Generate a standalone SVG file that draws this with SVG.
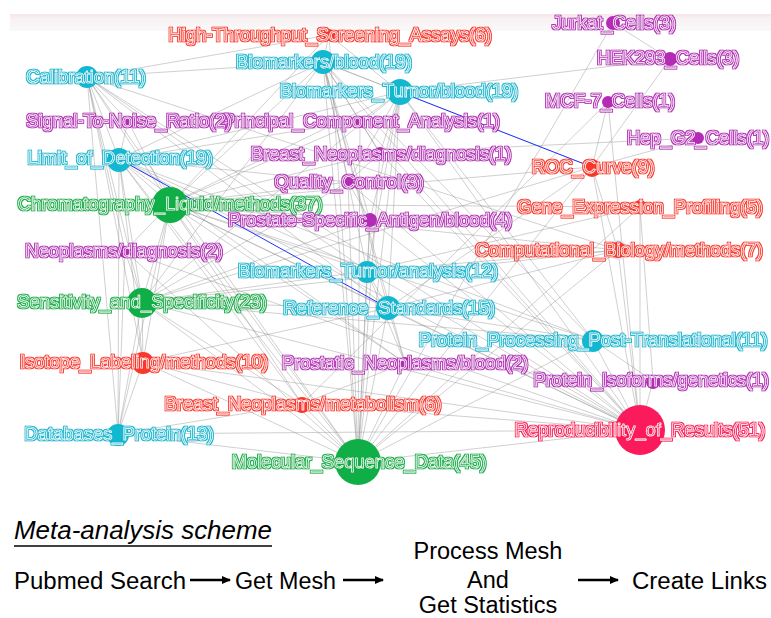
<svg xmlns="http://www.w3.org/2000/svg" width="771" height="618" viewBox="0 0 771 618">
<defs>
<linearGradient id="band" x1="0" y1="0" x2="0" y2="1">
<stop offset="0" stop-color="#f7e4e6"/>
<stop offset="0.25" stop-color="#f8f1f2"/>
<stop offset="1" stop-color="#f9f9f9"/>
</linearGradient>
<marker id="ah" markerWidth="10" markerHeight="10" refX="8" refY="5" orient="auto" markerUnits="userSpaceOnUse">
<path d="M0,1 L9,5 L0,9 Z" fill="#000"/>
</marker>
<filter id="fr" x="-5%" y="-40%" width="110%" height="180%"><feMorphology in="SourceAlpha" operator="dilate" radius="1" result="d"/><feFlood flood-color="#f9372a"/><feComposite in2="d" operator="in"/><feMerge><feMergeNode/><feMergeNode in="SourceGraphic"/></feMerge></filter>
<filter id="fc" x="-5%" y="-40%" width="110%" height="180%"><feMorphology in="SourceAlpha" operator="dilate" radius="1" result="d"/><feFlood flood-color="#12b8d0"/><feComposite in2="d" operator="in"/><feMerge><feMergeNode/><feMergeNode in="SourceGraphic"/></feMerge></filter>
<filter id="fp" x="-5%" y="-40%" width="110%" height="180%"><feMorphology in="SourceAlpha" operator="dilate" radius="1" result="d"/><feFlood flood-color="#b42bb6"/><feComposite in2="d" operator="in"/><feMerge><feMergeNode/><feMergeNode in="SourceGraphic"/></feMerge></filter>
<filter id="fg" x="-5%" y="-40%" width="110%" height="180%"><feMorphology in="SourceAlpha" operator="dilate" radius="1" result="d"/><feFlood flood-color="#0fae46"/><feComposite in2="d" operator="in"/><feMerge><feMergeNode/><feMergeNode in="SourceGraphic"/></feMerge></filter>
<filter id="fk" x="-5%" y="-40%" width="110%" height="180%"><feMorphology in="SourceAlpha" operator="dilate" radius="1" result="d"/><feFlood flood-color="#fb1a5b"/><feComposite in2="d" operator="in"/><feMerge><feMergeNode/><feMergeNode in="SourceGraphic"/></feMerge></filter>
</defs>
<style>
.lbl{font-family:"Liberation Sans",Arial,sans-serif;font-size:18.4px;text-anchor:middle;stroke:#fff;stroke-width:0.7px;stroke-linejoin:round}
.r circle{fill:#f9372a}.r text{fill:#f9372a;filter:url(#fr)}
.c circle{fill:#12b8d0}.c text{fill:#12b8d0;filter:url(#fc)}
.p circle{fill:#b42bb6}.p text{fill:#b42bb6;filter:url(#fp)}
.g circle{fill:#0fae46}.g text{fill:#0fae46;filter:url(#fg)}
.k circle{fill:#fb1a5b}.k text{fill:#fb1a5b;filter:url(#fk)}
#edges line{stroke:#8e8e8e;stroke-width:0.7;stroke-opacity:0.6}
#edges line.b{stroke:#2233ff;stroke-width:1;stroke-opacity:1}
.ft{font-family:"Liberation Sans",Arial,sans-serif;font-size:23.5px;fill:#000}
.ar{stroke:#000;stroke-width:2.6;marker-end:url(#ah)}
</style>
<rect x="10" y="14" width="761" height="17" fill="url(#band)"/>
<g id="edges">
<line x1="87" y1="77" x2="329" y2="35"/><line x1="87" y1="77" x2="119" y2="159"/><line x1="87" y1="77" x2="170" y2="204"/><line x1="87" y1="77" x2="142" y2="302"/><line x1="87" y1="77" x2="143" y2="362"/><line x1="87" y1="77" x2="358" y2="462"/><line x1="87" y1="77" x2="640" y2="430"/><line x1="87" y1="77" x2="388" y2="308"/><line x1="87" y1="77" x2="367" y2="271"/><line x1="87" y1="77" x2="323" y2="62"/><line x1="87" y1="77" x2="125" y2="251"/><line x1="87" y1="77" x2="118" y2="434"/><line x1="87" y1="77" x2="128" y2="121"/><line x1="87" y1="77" x2="618" y2="250"/>
<line x1="119" y1="159" x2="170" y2="204"/><line x1="119" y1="159" x2="142" y2="302"/><line x1="119" y1="159" x2="143" y2="362"/><line x1="119" y1="159" x2="358" y2="462"/><line x1="119" y1="159" x2="640" y2="430"/><line x1="119" y1="159" x2="323" y2="62"/><line x1="119" y1="159" x2="400" y2="92"/><line x1="119" y1="159" x2="118" y2="434"/><line x1="119" y1="159" x2="367" y2="271"/><line x1="119" y1="159" x2="348" y2="182"/><line x1="119" y1="159" x2="360" y2="121"/><line x1="119" y1="159" x2="405" y2="363"/><line x1="119" y1="159" x2="302" y2="404"/><line x1="119" y1="159" x2="593" y2="340"/><line x1="119" y1="159" x2="128" y2="121"/>
<line x1="170" y1="204" x2="323" y2="62"/><line x1="170" y1="204" x2="400" y2="92"/><line x1="170" y1="204" x2="142" y2="302"/><line x1="170" y1="204" x2="143" y2="362"/><line x1="170" y1="204" x2="358" y2="462"/><line x1="170" y1="204" x2="640" y2="430"/><line x1="170" y1="204" x2="118" y2="434"/><line x1="170" y1="204" x2="388" y2="308"/><line x1="170" y1="204" x2="367" y2="271"/><line x1="170" y1="204" x2="370" y2="220"/><line x1="170" y1="204" x2="348" y2="182"/><line x1="170" y1="204" x2="380" y2="153"/><line x1="170" y1="204" x2="360" y2="121"/><line x1="170" y1="204" x2="593" y2="340"/><line x1="170" y1="204" x2="618" y2="250"/><line x1="170" y1="204" x2="592" y2="167"/><line x1="170" y1="204" x2="640" y2="207"/><line x1="170" y1="204" x2="302" y2="404"/><line x1="170" y1="204" x2="405" y2="363"/><line x1="170" y1="204" x2="125" y2="251"/><line x1="170" y1="204" x2="128" y2="121"/><line x1="170" y1="204" x2="329" y2="35"/>
<line x1="142" y1="302" x2="323" y2="62"/><line x1="142" y1="302" x2="400" y2="92"/><line x1="142" y1="302" x2="358" y2="462"/><line x1="142" y1="302" x2="640" y2="430"/><line x1="142" y1="302" x2="388" y2="308"/><line x1="142" y1="302" x2="367" y2="271"/><line x1="142" y1="302" x2="143" y2="362"/><line x1="142" y1="302" x2="118" y2="434"/><line x1="142" y1="302" x2="370" y2="220"/><line x1="142" y1="302" x2="593" y2="340"/><line x1="142" y1="302" x2="618" y2="250"/><line x1="142" y1="302" x2="592" y2="167"/><line x1="142" y1="302" x2="302" y2="404"/><line x1="142" y1="302" x2="125" y2="251"/><line x1="142" y1="302" x2="348" y2="182"/>
<line x1="640" y1="430" x2="323" y2="62"/><line x1="640" y1="430" x2="400" y2="92"/><line x1="640" y1="430" x2="388" y2="308"/><line x1="640" y1="430" x2="367" y2="271"/><line x1="640" y1="430" x2="358" y2="462"/><line x1="640" y1="430" x2="302" y2="404"/><line x1="640" y1="430" x2="405" y2="363"/><line x1="640" y1="430" x2="593" y2="340"/><line x1="640" y1="430" x2="592" y2="167"/><line x1="640" y1="430" x2="618" y2="250"/><line x1="640" y1="430" x2="143" y2="362"/><line x1="640" y1="430" x2="118" y2="434"/><line x1="640" y1="430" x2="348" y2="182"/><line x1="640" y1="430" x2="370" y2="220"/><line x1="640" y1="430" x2="380" y2="153"/><line x1="640" y1="430" x2="360" y2="121"/><line x1="640" y1="430" x2="653" y2="381"/><line x1="640" y1="430" x2="640" y2="207"/><line x1="640" y1="430" x2="125" y2="251"/><line x1="640" y1="430" x2="608" y2="102"/>
<line x1="358" y1="462" x2="323" y2="62"/><line x1="358" y1="462" x2="400" y2="92"/><line x1="358" y1="462" x2="367" y2="271"/><line x1="358" y1="462" x2="388" y2="308"/><line x1="358" y1="462" x2="302" y2="404"/><line x1="358" y1="462" x2="405" y2="363"/><line x1="358" y1="462" x2="593" y2="340"/><line x1="358" y1="462" x2="618" y2="250"/><line x1="358" y1="462" x2="613" y2="23"/><line x1="358" y1="462" x2="118" y2="434"/><line x1="358" y1="462" x2="143" y2="362"/><line x1="358" y1="462" x2="370" y2="220"/><line x1="358" y1="462" x2="348" y2="182"/><line x1="358" y1="462" x2="380" y2="153"/><line x1="358" y1="462" x2="360" y2="121"/><line x1="358" y1="462" x2="329" y2="35"/><line x1="358" y1="462" x2="592" y2="167"/><line x1="358" y1="462" x2="640" y2="207"/><line x1="358" y1="462" x2="125" y2="251"/>
<line x1="323" y1="62" x2="329" y2="35"/><line x1="323" y1="62" x2="400" y2="92"/><line x1="323" y1="62" x2="367" y2="271"/><line x1="323" y1="62" x2="388" y2="308"/><line x1="323" y1="62" x2="370" y2="220"/><line x1="323" y1="62" x2="348" y2="182"/><line x1="323" y1="62" x2="380" y2="153"/><line x1="323" y1="62" x2="360" y2="121"/><line x1="323" y1="62" x2="593" y2="340"/><line x1="323" y1="62" x2="405" y2="363"/><line x1="323" y1="62" x2="592" y2="167"/>
<line x1="400" y1="92" x2="670" y2="59"/><line x1="400" y1="92" x2="367" y2="271"/><line x1="400" y1="92" x2="388" y2="308"/><line x1="400" y1="92" x2="370" y2="220"/><line x1="400" y1="92" x2="380" y2="153"/><line x1="400" y1="92" x2="360" y2="121"/><line x1="400" y1="92" x2="348" y2="182"/><line x1="400" y1="92" x2="593" y2="340"/><line x1="400" y1="92" x2="329" y2="35"/>
<line x1="613" y1="23" x2="670" y2="59"/><line x1="670" y1="59" x2="592" y2="167"/><line x1="608" y1="102" x2="302" y2="404"/><line x1="608" y1="102" x2="592" y2="167"/><line x1="698" y1="138" x2="592" y2="167"/><line x1="698" y1="138" x2="380" y2="153"/><line x1="640" y1="207" x2="653" y2="381"/><line x1="618" y1="250" x2="367" y2="271"/><line x1="618" y1="250" x2="388" y2="308"/><line x1="593" y1="340" x2="653" y2="381"/><line x1="593" y1="340" x2="388" y2="308"/><line x1="367" y1="271" x2="388" y2="308"/><line x1="370" y1="220" x2="367" y2="271"/><line x1="143" y1="362" x2="118" y2="434"/><line x1="143" y1="362" x2="302" y2="404"/><line x1="118" y1="434" x2="302" y2="404"/><line x1="302" y1="404" x2="405" y2="363"/><line x1="388" y1="308" x2="405" y2="363"/><line x1="367" y1="271" x2="405" y2="363"/><line x1="380" y1="153" x2="348" y2="182"/><line x1="348" y1="182" x2="370" y2="220"/><line x1="360" y1="121" x2="380" y2="153"/><line x1="592" y1="167" x2="618" y2="250"/><line x1="592" y1="167" x2="388" y2="308"/><line x1="640" y1="207" x2="367" y2="271"/><line x1="143" y1="362" x2="388" y2="308"/><line x1="125" y1="251" x2="118" y2="434"/>
<line class="b" x1="119" y1="159" x2="388" y2="308"/><line class="b" x1="400" y1="92" x2="592" y2="167"/>
</g>
<g id="n-hts" class="r"><circle cx="329" cy="35" r="6"/><text class="lbl" x="330" y="35" dy="0.35em">High-Throughput_Screening_Assays(6)</text></g>
<g id="n-jurkat" class="p"><circle cx="613" cy="23" r="7"/><text class="lbl" x="614" y="23" dy="0.35em">Jurkat_Cells(3)</text></g>
<g id="n-hek" class="p"><circle cx="670" cy="59" r="7"/><text class="lbl" x="668" y="58" dy="0.35em">HEK293_Cells(3)</text></g>
<g id="n-bioblood" class="c"><circle cx="323" cy="62" r="12"/><text class="lbl" x="324" y="62" dy="0.35em">Biomarkers/blood(19)</text></g>
<g id="n-calib" class="c"><circle cx="87" cy="77" r="11"/><text class="lbl" x="86" y="77" dy="0.35em">Calibration(11)</text></g>
<g id="n-btblood" class="c"><circle cx="400" cy="92" r="13"/><text class="lbl" x="399" y="91" dy="0.35em">Biomarkers_Tumor/blood(19)</text></g>
<g id="n-mcf7" class="p"><circle cx="608" cy="102" r="6"/><text class="lbl" x="610" y="101" dy="0.35em">MCF-7_Cells(1)</text></g>
<g id="n-pca" class="p"><circle cx="360" cy="122" r="6"/><text class="lbl" x="361" y="121" dy="0.35em">Principal_Component_Analysis(1)</text></g>
<g id="n-snr" class="p"><circle cx="128" cy="122" r="6"/><text class="lbl" x="129" y="121" dy="0.35em">Signal-To-Noise_Ratio(2)</text></g>
<g id="n-hepg2" class="p"><circle cx="698" cy="138" r="6"/><text class="lbl" x="698" y="138" dy="0.35em">Hep_G2_Cells(1)</text></g>
<g id="n-lod" class="c"><circle cx="119" cy="160" r="12"/><text class="lbl" x="120" y="158" dy="0.35em">Limit_of_Detection(19)</text></g>
<g id="n-bndiag" class="p"><circle cx="380" cy="153" r="6"/><text class="lbl" x="381" y="154" dy="0.35em">Breast_Neoplasms/diagnosis(1)</text></g>
<g id="n-roc" class="r"><circle cx="592" cy="168" r="9"/><text class="lbl" x="593" y="167" dy="0.35em">ROC_Curve(9)</text></g>
<g id="n-qc" class="p"><circle cx="348" cy="183" r="6"/><text class="lbl" x="349" y="182" dy="0.35em">Quality_Control(3)</text></g>
<g id="n-chrom" class="g"><circle cx="170" cy="205" r="18"/><text class="lbl" x="170" y="204" dy="0.35em">Chromatography_Liquid/methods(37)</text></g>
<g id="n-gep" class="r"><circle cx="640" cy="207" r="7"/><text class="lbl" x="640" y="207" dy="0.35em">Gene_Expression_Profiling(5)</text></g>
<g id="n-psa" class="p"><circle cx="370" cy="220" r="7"/><text class="lbl" x="370" y="220" dy="0.35em">Prostate-Specific_Antigen/blood(4)</text></g>
<g id="n-neodiag" class="p"><circle cx="125" cy="252" r="6"/><text class="lbl" x="124" y="251" dy="0.35em">Neoplasms/diagnosis(2)</text></g>
<g id="n-compbio" class="r"><circle cx="618" cy="250" r="10" style="fill:#d4e9f6"/><circle cx="618" cy="250" r="8"/><text class="lbl" x="619" y="250" dy="0.35em">Computational_Biology/methods(7)</text></g>
<g id="n-btanal" class="c"><circle cx="367" cy="272" r="11"/><text class="lbl" x="368" y="271" dy="0.35em">Biomarkers_Tumor/analysis(12)</text></g>
<g id="n-sens" class="g"><circle cx="142" cy="303" r="15"/><text class="lbl" x="142" y="302" dy="0.35em">Sensitivity_and_Specificity(23)</text></g>
<g id="n-refstd" class="c"><circle cx="388" cy="308" r="12"/><text class="lbl" x="389" y="308" dy="0.35em">Reference_Standards(15)</text></g>
<g id="n-pppt" class="c"><circle cx="593" cy="341" r="11"/><text class="lbl" x="593" y="340" dy="0.35em">Protein_Processing_Post-Translational(11)</text></g>
<g id="n-isotope" class="r"><circle cx="143" cy="363" r="11"/><text class="lbl" x="144" y="362" dy="0.35em">Isotope_Labeling/methods(10)</text></g>
<g id="n-prostblood" class="p"><circle cx="405" cy="363" r="6"/><text class="lbl" x="405" y="363" dy="0.35em">Prostatic_Neoplasms/blood(2)</text></g>
<g id="n-protiso" class="p"><circle cx="653" cy="382" r="7"/><text class="lbl" x="651" y="380" dy="0.35em">Protein_Isoforms/genetics(1)</text></g>
<g id="n-bnmetab" class="r"><circle cx="302" cy="405" r="8"/><text class="lbl" x="303" y="404" dy="0.35em">Breast_Neoplasms/metabolism(6)</text></g>
<g id="n-repro" class="k"><circle cx="640" cy="430" r="25"/><text class="lbl" x="640" y="430" dy="0.35em">Reproducibility_of_Results(51)</text></g>
<g id="n-dbprot" class="c"><circle cx="118" cy="435" r="11"/><text class="lbl" x="119" y="434" dy="0.35em">Databases_Protein(13)</text></g>
<g id="n-molseq" class="g"><circle cx="358" cy="462" r="23"/><text class="lbl" x="359" y="462" dy="0.35em">Molecular_Sequence_Data(45)</text></g>
<g id="scheme">
<text x="14" y="539" font-family="Liberation Sans, Arial, sans-serif" font-size="25" font-style="italic" textLength="258" lengthAdjust="spacingAndGlyphs" fill="#000">Meta-analysis scheme</text>
<line x1="14" y1="546" x2="272" y2="546" stroke="#000" stroke-width="1.5"/>
<text class="ft" x="14" y="589" textLength="172" lengthAdjust="spacingAndGlyphs">Pubmed Search</text>
<line class="ar" x1="190" y1="580" x2="230" y2="580"/>
<text class="ft" x="235" y="589" textLength="101" lengthAdjust="spacingAndGlyphs">Get Mesh</text>
<line class="ar" x1="343" y1="580" x2="383" y2="580"/>
<text class="ft" x="488" y="559" text-anchor="middle">Process Mesh</text>
<text class="ft" x="488" y="588" text-anchor="middle">And</text>
<text class="ft" x="488" y="613" text-anchor="middle">Get Statistics</text>
<line class="ar" x1="578" y1="580" x2="618" y2="580"/>
<text class="ft" x="632" y="589" textLength="135" lengthAdjust="spacingAndGlyphs">Create Links</text>
</g>
</svg>
